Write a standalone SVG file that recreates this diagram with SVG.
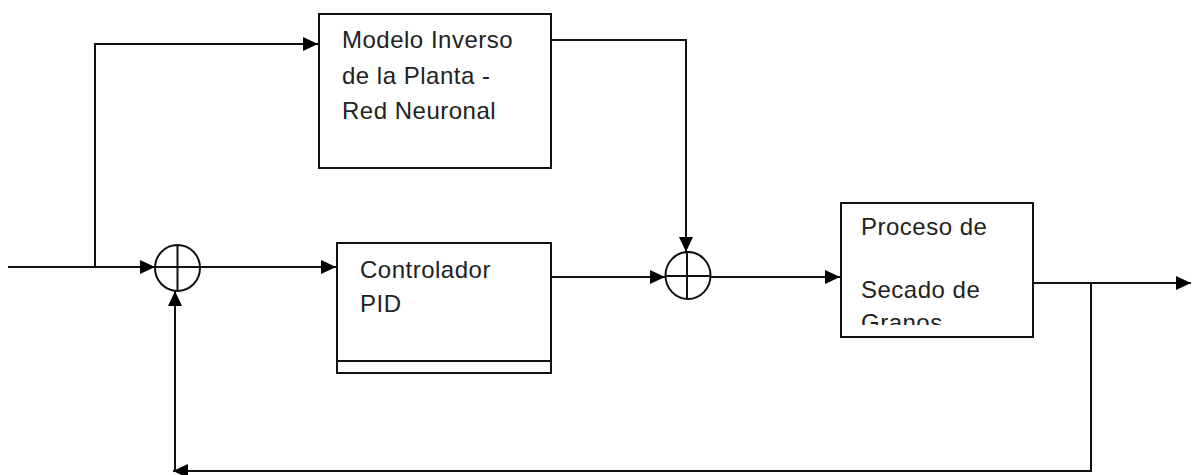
<svg xmlns="http://www.w3.org/2000/svg" width="1192" height="475" viewBox="0 0 1192 475">
<style>
.box{fill:#fff;stroke:#111;stroke-width:2}
.ln{fill:none;stroke:#111;stroke-width:2}
.sum{fill:#fff;stroke:#111;stroke-width:2}
.t{font-family:"Liberation Sans",Arial,sans-serif;font-size:24px;letter-spacing:0.5px;fill:#222}
</style>
<defs>
<marker id="ah" markerUnits="userSpaceOnUse" markerWidth="17" markerHeight="16" refX="15" refY="7" orient="auto">
<path d="M0,0 L15,7 L0,14 z" fill="#000"/>
</marker>
<clipPath id="clipP"><rect x="842" y="204" width="190" height="121"/></clipPath>
</defs>
<rect width="1192" height="475" fill="#fff"/>
<g id="connectors">
<path class="ln" d="M8,267 L155,267" marker-end="url(#ah)"/>
<path class="ln" d="M95,267 L95,44 L318,44" marker-end="url(#ah)"/>
<path class="ln" d="M200,267 L336,267" marker-end="url(#ah)"/>
<path class="ln" d="M551,277 L665,277" marker-end="url(#ah)"/>
<path class="ln" d="M551,40 L686,40 L686,252" marker-end="url(#ah)"/>
<path class="ln" d="M711,277 L840,277" marker-end="url(#ah)"/>
<path class="ln" d="M1033,283 L1191,283" marker-end="url(#ah)"/>
<path class="ln" d="M1091,283 L1091,471 L173,471" marker-end="url(#ah)"/>
<path class="ln" d="M175,471 L175,291" marker-end="url(#ah)"/>
</g>
<g id="inverse-model">
<rect class="box" x="319" y="14" width="232" height="154"/>
<text class="t" x="342" y="48">Modelo Inverso</text>
<text class="t" x="342" y="84">de la Planta -</text>
<text class="t" x="342" y="119">Red Neuronal</text>
</g>
<g id="sum1">
<ellipse class="sum" cx="177.5" cy="268" rx="22.5" ry="23"/>
<path class="ln" d="M155,267 L200,267 M177.5,245 L177.5,291"/>
</g>
<g id="pid">
<rect class="box" x="337" y="243" width="214" height="130"/>
<line class="ln" x1="337" y1="361" x2="551" y2="361"/>
<text class="t" x="360" y="278">Controlador</text>
<text class="t" x="360" y="312">PID</text>
</g>
<g id="sum2">
<ellipse class="sum" cx="688" cy="275.5" rx="22.5" ry="23.5"/>
<path class="ln" d="M665.5,276 L710.5,276 M687,252 L687,299"/>
</g>
<g id="process">
<rect class="box" x="841" y="203" width="192" height="134"/>
<g clip-path="url(#clipP)">
<text class="t" x="861" y="235">Proceso de</text>
<text class="t" x="861" y="298">Secado de</text>
<text class="t" x="861" y="331">Granos</text>
</g>
</g>
</svg>
